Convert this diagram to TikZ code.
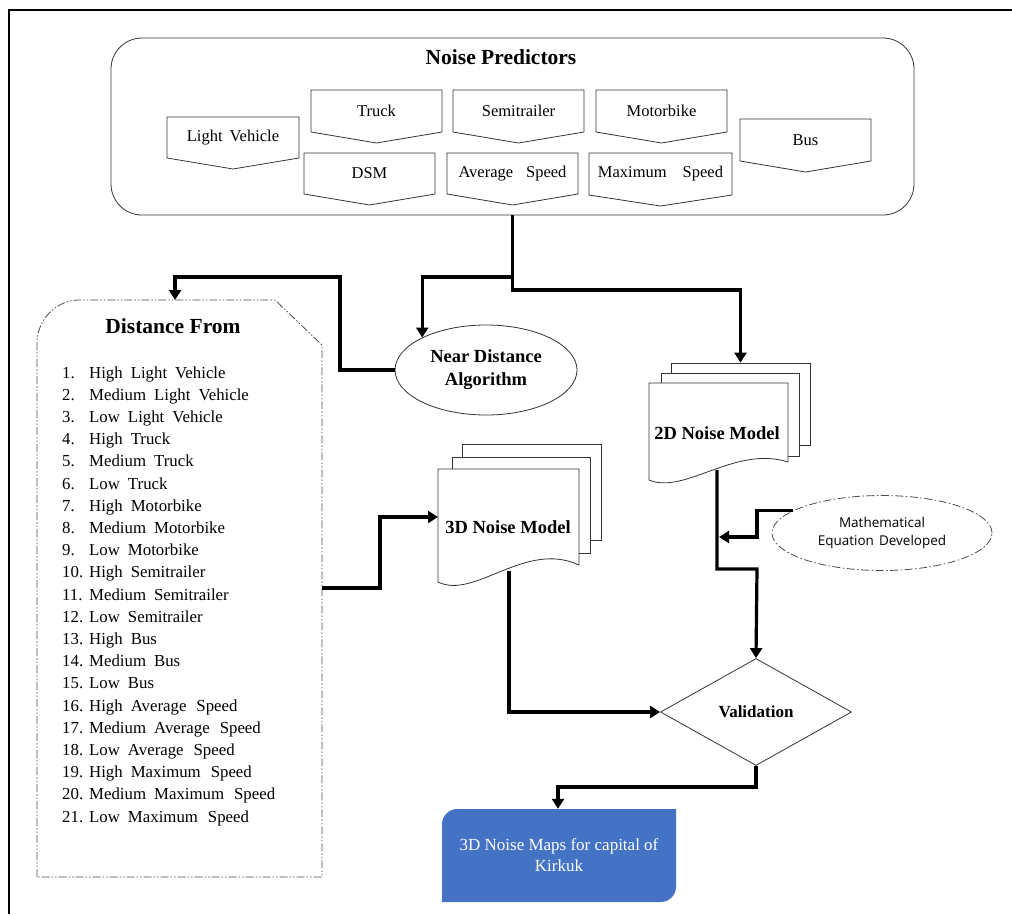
\documentclass[tikz,border=0pt]{standalone}
\usepackage{fontspec}
\setmainfont{Liberation Serif}
\newfontfamily\labelsans{Open Sans}
\usetikzlibrary{arrows.meta,shapes.geometric}

% one down-pointing predictor tab: name, left, right, top, side bottom, text
\newcommand\predtab[6]{%
  \draw[thinline,fill=white] (#2,#4) -- (#3,#4) -- (#3,#5) -- ({(#2+#3)/2},{#5+11}) -- (#2,#5) -- cycle;
  \node[predtext] (#1) at ({(#2+#3)/2},{(#4+#5)/2}) {#6};}
% one numbered entry of the distance list
\newcommand\listentry[2]{\makebox[27pt][l]{#1.}{\spaceskip=8pt\relax #2}}
% wider gap used before "Speed"
\newcommand\wgap{\hspace{10pt}}

\begin{document}
\begin{tikzpicture}[x=1pt,y=-1pt,
  thinline/.style={draw=black!80,line width=0.8pt},
  predtext/.style={font=\fontsize{16.5}{19}\selectfont,inner sep=0pt},
  heading/.style={font=\fontsize{21.5}{25}\selectfont\bfseries,inner sep=0pt},
  boldlabel/.style={font=\fontsize{18.5}{23}\selectfont\bfseries,inner sep=0pt,align=center},
  item/.style={font=\fontsize{16.8}{20}\selectfont,inner sep=0pt,anchor=base west},
  sheet/.style={thinline,fill=white,inner sep=0pt},
  dashdotdot/.style={draw=black!70,line width=0.8pt,dash pattern=on 8pt off 2pt on 1.5pt off 2pt on 1.5pt off 2pt},
  dashdot/.style={draw=black!70,line width=0.8pt,dash pattern=on 8pt off 2.5pt on 1.5pt off 2.5pt},
  flowline/.style={line width=3.2pt},
  flow/.style={flowline,-{Triangle[width=12pt,length=10pt]}}]

\useasboundingbox (0,0) rectangle (1012,914);

% frame
\draw[line width=1.4pt] (9,914) -- (9,10) -- (1012,10);

% ---------- noise predictors ----------
\node[thinline,rounded corners=31pt,minimum width=803pt,minimum height=177pt,inner sep=0pt] (np) at (512.5,126.5) {};
\node[heading] (nptitle) at (501,57) {Noise Predictors};
\predtab{light}{167}{299}{117}{158}{Light\hspace{7pt}Vehicle}
\predtab{truck}{311}{442}{90}{132}{Truck}
\predtab{semi}{453}{584}{90}{132}{Semitrailer}
\predtab{moto}{596}{727}{90}{132}{Motorbike}
\predtab{bus}{740}{871}{119}{161}{Bus}
\predtab{dsm}{304}{435}{153}{194}{DSM}
\predtab{avg}{447}{578}{153}{194}{Average\hspace{13pt}Speed}
\predtab{max}{589}{732}{153}{195}{Maximum\hspace{16pt}Speed}

% ---------- distance list ----------
\draw[dashdotdot] (37,877) -- (37,343) .. controls (37,320) and (56,300) .. (79,300)
  -- (275,300) -- (322,345) -- (322,877) -- cycle;
\node[inner sep=0pt,minimum width=285pt,minimum height=577pt] (dist) at (179.5,588.5) {};
\node[heading] (disttitle) at (173,326) {Distance From};
\foreach \t [count=\i] in {High Light Vehicle, Medium Light Vehicle, Low Light Vehicle,
    High Truck, Medium Truck, Low Truck, High Motorbike, Medium Motorbike, Low Motorbike,
    High Semitrailer, Medium Semitrailer, Low Semitrailer, High Bus, Medium Bus, Low Bus,
    High Average\wgap Speed, Medium Average\wgap Speed, Low Average\wgap Speed,
    High Maximum\wgap Speed, Medium Maximum\wgap Speed, Low Maximum\wgap Speed}
  {\pgfmathsetmacro\yy{378+22.2*(\i-1)}
   \node[item] (item\i) at (62,\yy) {\listentry{\i}{\t}};}

% ---------- near distance algorithm ----------
\node[ellipse,thinline,minimum width=182pt,minimum height=90pt,inner sep=0pt,boldlabel] (nda) at (486,370) {Near Distance\\Algorithm};

% ---------- 2D noise model ----------
\node[sheet,minimum width=139pt,minimum height=82pt] (d2c) at (740.5,404) {};
\node[sheet,minimum width=138pt,minimum height=83pt] (d2b) at (730,414.5) {};
\draw[thinline,fill=white] (649,480) -- (649,383) -- (788,383) -- (788,462)
  .. controls (735,445) and (685,495) .. (649,480) -- cycle;
\node[boldlabel] (d2) at (717,433) {2D Noise Model};
\coordinate (d2out) at (717,470);

% ---------- 3D noise model ----------
\node[sheet,minimum width=139pt,minimum height=96pt] (d3c) at (531.5,492) {};
\node[sheet,minimum width=138pt,minimum height=96pt] (d3b) at (521,505) {};
\draw[thinline,fill=white] (438,582) -- (438,469) -- (579,469) -- (579,565)
  .. controls (525,540) and (475,600) .. (438,582) -- cycle;
\node[boldlabel] (d3) at (508,527) {3D Noise Model};
\coordinate (d3in) at (438,517);
\coordinate (d3out) at (509,571);

% ---------- equation ----------
\node[ellipse,dashdot,minimum width=220pt,minimum height=75pt,inner sep=0pt,
  font=\labelsans\fontsize{13.5}{18}\selectfont,text=black,align=center] (eq) at (882,533)
  {Mathematical\\Equation\hspace{5pt}Developed};

% ---------- validation ----------
\node[diamond,thinline,minimum width=191pt,minimum height=107pt,inner sep=0pt,
  font=\fontsize{17}{20}\selectfont\bfseries] (val) at (756,712) {Validation};

% ---------- result ----------
\fill[fill={rgb,255:red,68;green,114;blue,196}] (442,902) -- (442,824) .. controls (442,816) and (449,809) .. (457,809)
  -- (676,809) -- (676,887) .. controls (676,895) and (669,902) .. (661,902) -- cycle;
\node[inner sep=0pt,minimum width=234pt,minimum height=93pt,text=white,align=center,
  font=\fontsize{17}{21}\selectfont] (maps) at (559,855.5) {3D Noise Maps for capital of\\Kirkuk};

% ---------- connectors ----------
\draw[flow] (np.south) |- (d2c.north |- 0,290) -- (d2c.north);
\draw[flow] (np.south |- 0,277) -| (nda.153.4);
\draw[flow] (nda.west) -| (340,277) -| (175,300);
\draw[flow] (dist.east |- 0,588) -| (380,517) -- (d3in);
\draw[flow] (d3out) |- (val.west);
\draw[flow] (d2out) |- (757,569) -- (val.north);
\draw[flow] (eq.166) -| (757,537) -- (719,537);
\draw[flow] (val.south) |- (558,787) -- (maps.north -| 558,0);

\end{tikzpicture}
\end{document}
